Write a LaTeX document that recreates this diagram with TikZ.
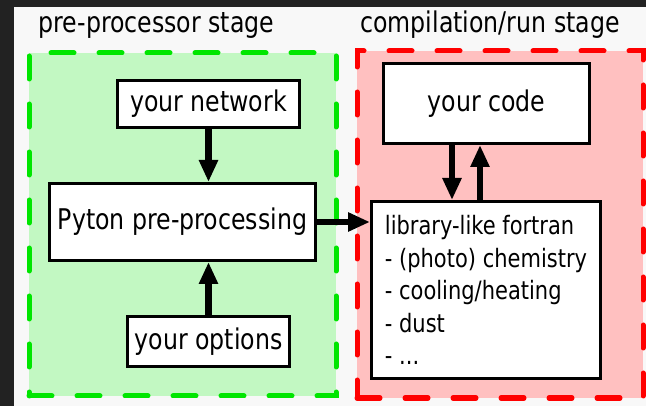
\documentclass[tikz,border=0pt]{standalone}
\usepackage{fontspec}
\setmainfont{DejaVu Sans}[FakeStretch=0.83]
\usetikzlibrary{arrows.meta,calc}
\definecolor{darkbg}{HTML}{222222}
\definecolor{lightbg}{HTML}{F8F8F8}
\definecolor{gstroke}{HTML}{00E600}
\definecolor{gfill}{HTML}{C2F8C2}
\definecolor{rstroke}{HTML}{FF0000}
\definecolor{rfill}{HTML}{FFC0C0}
\begin{document}
\begin{tikzpicture}[x=1pt,y=-1pt,
  box/.style={draw=black,line width=3pt,fill=white,inner sep=0pt,
    font=\fontsize{28.5}{32.5}\selectfont},
  title/.style={anchor=base,inner sep=0pt,font=\fontsize{28.5}{32.5}\selectfont},
  stagebox/.style={line width=5pt,dash pattern=on 23pt off 25pt,line cap=round,
    inner sep=0pt},
  arr/.style={line width=6.5pt,-{Triangle[length=22pt,width=18pt]}}]
\useasboundingbox (0,0) rectangle (646,406);
\fill[darkbg] (0,0) rectangle (646,406);
\fill[lightbg] (14,7) rectangle (646,406);
% stages
\node[stagebox,draw=gstroke,fill=gfill,minimum width=307pt,minimum height=343pt] (pre) at (182.5,224.5) {};
\node[stagebox,draw=rstroke,fill=rfill,minimum width=286pt,minimum height=347pt] (run) at (500,224.5) {};
\node[title] (tpre) at (156.5,33) {pre-processor stage};
\node[title] (trun) at (490,33) {compilation/run stage};
% boxes
\node[box,minimum width=182pt,minimum height=47pt] (net) at (208.5,104) {your network};
\node[box,minimum width=266pt,minimum height=77pt] (py) at (182.5,222) {Pyton pre-processing};
\node[box,minimum width=162pt,minimum height=50pt] (opt) at (208.5,341.5) {your options};
\node[box,minimum width=206pt,minimum height=80pt] (code) at (486.5,103.5) {your code};
\node[box,minimum width=229pt,minimum height=177pt,align=left,
  font=\fontsize{25.3}{32.5}\selectfont] (lib) at (486,290)
  {library-like fortran\\- (photo) chemistry\\- cooling/heating\\- dust\\- ...};
% arrows
\coordinate (c1) at ([xshift=-34.5pt]code.south);
\coordinate (c2) at ([xshift=-6.5pt]code.south);
\draw[arr] (net.south) -- (net.south |- py.north);
\draw[arr] (opt.north) -- (opt.north |- py.south);
\draw[arr] (py.east) -- (py.east -| lib.west);
\draw[arr] (c1) -- (c1 |- lib.north);
\draw[arr] (c2 |- lib.north) -- (c2);
\end{tikzpicture}
\end{document}
